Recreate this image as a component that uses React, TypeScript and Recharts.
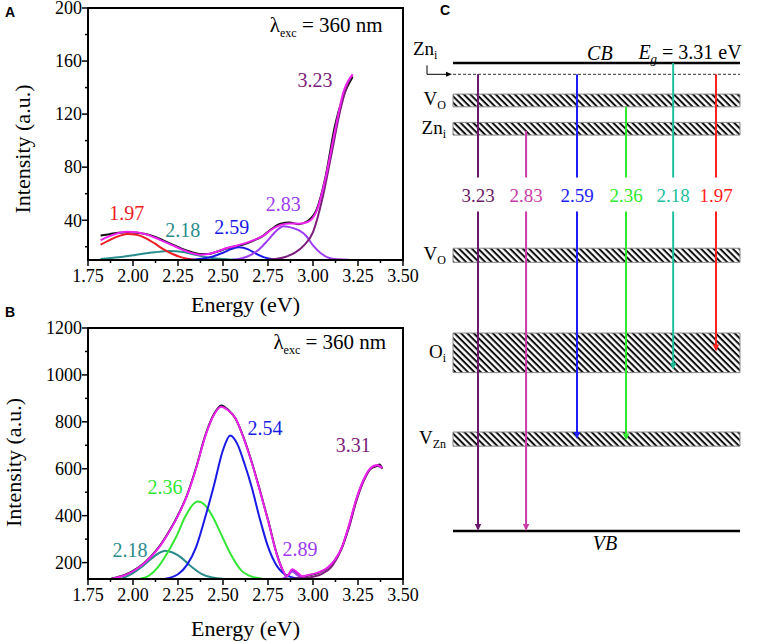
import React from "react";
import { LineChart, Line, XAxis, YAxis, ReferenceArea, ReferenceDot, ReferenceLine } from "recharts";

const SERIF = "'Liberation Serif', Tinos, 'Times New Roman', Times, 'DejaVu Serif', 'Noto Serif', serif";

// ---------- shared axis ticks
const energyTicks = [1.75, 1.875, 2.0, 2.125, 2.25, 2.375, 2.5, 2.625, 2.75, 2.875, 3.0, 3.125, 3.25, 3.375, 3.5];
const energyMajor = [1.75, 2.0, 2.25, 2.5, 2.75, 3.0, 3.25, 3.5];
const aYTicks = [20, 40, 60, 80, 100, 120, 140, 160, 180, 200];
const aYMajor = [40, 80, 120, 160, 200];
const bYTicks = [200, 300, 400, 500, 600, 700, 800, 900, 1000, 1100, 1200];
const bYMajor = [200, 400, 600, 800, 1000, 1200];

// ---------- panel A
const aExpE = [1.82, 1.87, 1.92, 1.97, 2.02, 2.07, 2.12, 2.17, 2.22, 2.27, 2.32, 2.37, 2.42, 2.47, 2.52, 2.57, 2.62, 2.67, 2.72, 2.77, 2.82, 2.87, 2.92, 2.97, 3.02, 3.07, 3.12, 3.17, 3.22];
const aExpI = [28.5, 29.5, 30.6, 31, 30.6, 29.6, 27.6, 24.6, 21.6, 18.6, 16.2, 14.6, 14.6, 16.4, 18.6, 20.4, 22, 24.6, 28, 33.4, 37.4, 38.2, 37, 39.4, 48, 73, 110, 134, 148];
const aFitI = [25, 28, 30.3, 31.3, 31, 29.5, 27, 24, 21, 18, 15.5, 14, 14.5, 16.5, 19, 20.6, 22.5, 25, 28, 33, 36.5, 37.6, 37.4, 38.6, 47, 72, 106, 137, 150];
const aRedE = [1.82, 1.87, 1.92, 1.97, 2.02, 2.07, 2.12, 2.17, 2.22, 2.27, 2.32, 2.37, 2.42];
const aRedI = [21.5, 25, 28, 29.6, 29, 26.5, 22.5, 18, 14.5, 12, 10.6, 10.1, 10];
const aTealE = [1.82, 1.92, 2.02, 2.12, 2.2, 2.28, 2.36, 2.44, 2.52, 2.6];
const aTealI = [10.8, 12, 14, 15.8, 16.8, 16, 13.5, 11.5, 10.5, 10.1];
const aBlueE = [2.3, 2.38, 2.44, 2.5, 2.55, 2.59, 2.64, 2.68, 2.73, 2.78, 2.84];
const aBlueI = [10.1, 11, 12.5, 15.5, 18.5, 19.6, 18, 15, 12, 10.6, 10.1];
const aVioE = [2.55, 2.6, 2.65, 2.7, 2.75, 2.8, 2.835, 2.87, 2.92, 2.96, 3.0, 3.04, 3.09, 3.14, 3.2];
const aVioI = [10.2, 11.2, 13.5, 18, 25, 32.5, 35.5, 34.8, 32.5, 28.5, 21, 15.5, 11.5, 10.5, 10.1];
const aDarkE = [2.75, 2.8, 2.85, 2.9, 2.95, 3.0, 3.05, 3.1, 3.15, 3.2, 3.22];
const aDarkI = [10.3, 11, 12.5, 15.5, 21, 31, 55, 88, 122, 145, 149.5];
const aPeakText = ["1.97", "2.18", "2.59", "2.83", "3.23"];
const aPeakE = [1.965, 2.276, 2.548, 2.835, 3.011];
const aPeakI = [45.4, 32.6, 35.1, 52.2, 145.7];
const aPeakColor = ["#ee1c24", "#2a8c8c", "#1a1ae6", "#9d3cf0", "#7d1d7d"];

// ---------- panel B
const bExpE = [1.88, 1.95, 2.0, 2.05, 2.1, 2.15, 2.2, 2.25, 2.3, 2.35, 2.4, 2.45, 2.49, 2.53, 2.57, 2.61, 2.65, 2.7, 2.75, 2.8, 2.83, 2.855, 2.885, 2.91, 2.94, 2.98, 3.03, 3.08, 3.12, 3.16, 3.2, 3.24, 3.28, 3.32, 3.355, 3.37, 3.385];
const bExpI = [132, 146, 165, 191, 226, 272, 332, 402, 487, 603, 738, 833, 870, 850, 813, 742, 652, 522, 382, 234, 170, 140, 168, 156, 140, 146, 156, 176, 208, 262, 356, 466, 548, 600, 612, 618, 600];
const bFitI = [131, 145, 163, 190, 225, 270, 330, 400, 485, 600, 735, 830, 864, 848, 815, 740, 650, 520, 380, 232, 172, 142, 172, 160, 142, 148, 158, 178, 210, 265, 360, 470, 552, 603, 616, 612, 603];
const bTealE = [1.94, 2.0, 2.05, 2.1, 2.15, 2.18, 2.22, 2.27, 2.32, 2.38, 2.44, 2.5];
const bTealI = [132, 155, 182, 215, 243, 250, 243, 220, 185, 152, 136, 131];
const bGreenE = [2.04, 2.09, 2.14, 2.19, 2.24, 2.29, 2.33, 2.36, 2.4, 2.44, 2.49, 2.54, 2.6, 2.66, 2.72];
const bGreenI = [131, 145, 182, 240, 310, 395, 445, 460, 445, 400, 320, 240, 168, 140, 131];
const bBlueE = [2.18, 2.25, 2.3, 2.35, 2.4, 2.45, 2.5, 2.54, 2.58, 2.62, 2.66, 2.7, 2.75, 2.8, 2.83, 2.87, 2.92];
const bBlueI = [131, 150, 190, 265, 390, 530, 680, 742, 705, 620, 520, 400, 268, 185, 158, 140, 132];
const bVioE = [2.83, 2.86, 2.885, 2.91, 2.94, 2.97];
const bVioI = [131, 145, 162, 148, 133, 130];
const bDarkE = [2.88, 2.94, 3.0, 3.05, 3.1, 3.15, 3.2, 3.24, 3.28, 3.32, 3.355, 3.385];
const bDarkI = [131, 134, 140, 152, 180, 245, 350, 460, 545, 600, 613, 603];
const bPeakText = ["2.54", "2.36", "2.18", "2.89", "3.31"];
const bPeakE = [2.733, 2.178, 1.983, 2.928, 3.224];
const bPeakI = [772, 523, 254, 257, 701];
const bPeakColor = ["#1a1ae6", "#33e633", "#2a8c8c", "#9d3cf0", "#7d1d7d"];

// ---------- panel C (energy above VB, eV)
const cBandLeft = 0.475;
const cBandRight = 6.504;
const cCB = 3.31;
const cShallowZni = 3.23;
const levelMain = ["V", "Zn", "V", "O", "V"];
const levelSub = ["O", "i", "O", "i", "Zn"];
const levelLo = [3.0, 2.8, 1.9, 1.12, 0.6];
const levelHi = [3.09, 2.89, 2.0, 1.4, 0.7];
const transText = ["3.23", "2.83", "2.59", "2.36", "2.18", "1.97"];
const transColor = ["#6b1a6b", "#c83ca8", "#1d1df5", "#2ee82e", "#20bf9c", "#ff2020"];
const transX = [1, 2.01, 3.08, 4.11, 5.1, 6];
const transFrom = [3.23, 2.83, 3.23, 3.0, 3.31, 3.23];
const transTo = [0, 0, 0.65, 0.64, 1.14, 1.27];
const gapTop = 2.5;
const gapBottom = 2.26;
const labelLevel = 2.376;

const pts = (e: number[], v: number[]) => e.map((x, i) => ({ e: x, v: v[i] }));

const near = (list: number[], v: number) => list.some((m) => Math.abs(m - v) < 1e-6);

const xTick = (props: any) => {
  const { x, y, payload } = props;
  const major = near(energyMajor, payload.value);
  return (
    <g>
      <line x1={x} x2={x} y1={y} y2={y + (major ? 6 : 3)} stroke="#000" strokeWidth={1.5} />
      {major && (
        <text x={x} y={y + 22} textAnchor="middle" fontSize={18} fontFamily={SERIF} fill="#000">
          {payload.value.toFixed(2)}
        </text>
      )}
    </g>
  );
};

const yTick = (majors: number[]) => (props: any) => {
  const { x, y, payload } = props;
  const major = near(majors, payload.value);
  return (
    <g>
      <line x1={x} x2={x - (major ? 6 : 3)} y1={y} y2={y} stroke="#000" strokeWidth={1.5} />
      {major && (
        <text x={x - 6} y={y} dy="0.35em" textAnchor="end" fontSize={18} fontFamily={SERIF} fill="#000">
          {payload.value}
        </text>
      )}
    </g>
  );
};

const yTitle = (dx: number, dy: number) => (props: any) => {
  const vb = props.viewBox;
  const cx = vb.x + dx;
  const cy = vb.y + vb.height / 2 + dy;
  return (
    <text transform={`translate(${cx},${cy}) rotate(-90)`} textAnchor="middle" dy="0.35em" fontSize={22} fontFamily={SERIF} fill="#000">
      Intensity (a.u.)
    </text>
  );
};

const xTitle = (offset: number) => (props: any) => {
  const vb = props.viewBox;
  return (
    <text x={vb.x + vb.width / 2} y={vb.y + vb.height - offset} textAnchor="middle" fontSize={22} fontFamily={SERIF} fill="#000">
      Energy (eV)
    </text>
  );
};

const textAt = (key: string, x: number, y: number, txt: string, color: string, size: number) => (
  <ReferenceDot
    key={key}
    x={x}
    y={y}
    r={0}
    shape={(p: any) => (
      <text x={p.cx} y={p.cy} dy="0.35em" textAnchor="middle" fontSize={size} fontFamily={SERIF} fill={color}>
        {txt}
      </text>
    )}
  />
);

const lambdaAt = (x: number, y: number) => (
  <ReferenceDot
    x={x}
    y={y}
    r={0}
    shape={(p: any) => (
      <text x={p.cx} y={p.cy + 7} fontSize={21} fontFamily={SERIF} fill="#000">
        λ
        <tspan fontSize={12} dy={5}>exc</tspan>
        <tspan dy={-5}> = 360 nm</tspan>
      </text>
    )}
  />
);

function Spectrum(props: {
  top: number;
  height: number;
  plotTop: number;
  xAxisHeight: number;
  yDomain: [number, number];
  yTicks: number[];
  yMajor: number[];
  titleOffset: number;
  yTitleDx: number;
  yTitleDy: number;
  series: { e: number[]; v: number[]; color: string }[];
  peaks: { t: string[]; e: number[]; v: number[]; c: string[] };
  lambda: [number, number];
}) {
  const { yDomain } = props;
  return (
    <div style={{ position: "absolute", left: 0, top: props.top }}>
      <LineChart width={430} height={props.height} margin={{ top: props.plotTop, right: 27, left: 0, bottom: 0 }}>
        <XAxis
          type="number"
          dataKey="e"
          domain={[1.75, 3.5]}
          allowDataOverflow
          ticks={energyTicks}
          interval={0}
          tick={xTick}
          tickLine={false}
          tickSize={0}
          tickMargin={0}
          height={props.xAxisHeight}
          axisLine={{ stroke: "#000", strokeWidth: 2 }}
          label={{ content: xTitle(props.titleOffset) }}
        />
        <YAxis
          type="number"
          domain={yDomain}
          allowDataOverflow
          ticks={props.yTicks}
          interval={0}
          tick={yTick(props.yMajor)}
          tickLine={false}
          tickSize={0}
          tickMargin={0}
          width={88}
          axisLine={{ stroke: "#000", strokeWidth: 2 }}
          label={{ content: yTitle(props.yTitleDx, props.yTitleDy) }}
        />
        <ReferenceArea x1={1.75} x2={3.5} y1={yDomain[0]} y2={yDomain[1]} fill="none" fillOpacity={0} stroke="#000" strokeWidth={2} />
        {props.series.map((s, i) => (
          <Line
            key={i}
            data={pts(s.e, s.v)}
            dataKey="v"
            type="monotone"
            stroke={s.color}
            strokeWidth={2}
            dot={false}
            isAnimationActive={false}
          />
        ))}
        {props.peaks.t.map((t, i) => textAt("p" + i, props.peaks.e[i], props.peaks.v[i], t, props.peaks.c[i], 20))}
        {lambdaAt(props.lambda[0], props.lambda[1])}
      </LineChart>
    </div>
  );
}

const arrowShape = (color: string) => (p: any) => {
  const x = p.x1;
  const ya = Math.min(p.y1, p.y2);
  const yb = Math.max(p.y1, p.y2);
  return (
    <g>
      <line x1={x} x2={x} y1={ya} y2={yb - 5} stroke={color} strokeWidth={2} />
      <polygon points={`${x - 3.2},${yb - 7} ${x + 3.2},${yb - 7} ${x},${yb}`} fill={color} />
    </g>
  );
};

const plainSeg = (color: string) => (p: any) => (
  <line x1={p.x1} x2={p.x2} y1={p.y1} y2={p.y2} stroke={color} strokeWidth={2} />
);

const levelLabel = (main: string, sub: string) => (props: any) => {
  const vb = props.viewBox;
  return (
    <text x={vb.x - 7} y={vb.y + vb.height / 2 + 5} textAnchor="end" fontSize={19} fontFamily={SERIF} fill="#000">
      {main}
      <tspan fontSize={12} dy={4}>{sub}</tspan>
    </text>
  );
};

function Diagram() {
  return (
    <div style={{ position: "absolute", left: 390, top: 0 }}>
      <LineChart width={377} height={643} margin={{ top: 22, right: 3.4, left: 40.4, bottom: 69.6 }}>
        <defs>
          <pattern id="hatchC" patternUnits="userSpaceOnUse" width={4.5} height={4.5} patternTransform="rotate(45)">
            <rect x={0} y={0} width={4.5} height={4.5} fill="#fff" />
            <rect x={0} y={0} width={4.5} height={2} fill="#111" />
          </pattern>
        </defs>
        <XAxis type="number" dataKey="x" domain={[0, 7]} allowDataOverflow hide />
        <YAxis type="number" dataKey="y" domain={[-0.3, 3.6]} allowDataOverflow hide />
        {levelMain.map((m, i) => (
          <ReferenceArea
            key={"lv" + i}
            x1={cBandLeft}
            x2={cBandRight}
            y1={levelLo[i]}
            y2={levelHi[i]}
            fill="url(#hatchC)"
            fillOpacity={1}
            stroke="#888"
            strokeWidth={1}
            label={levelLabel(m, levelSub[i])}
          />
        ))}
        <ReferenceLine
          segment={[{ x: cBandLeft, y: cShallowZni }, { x: cBandRight, y: cShallowZni }]}
          stroke="#333"
          strokeWidth={1}
          strokeDasharray="3 2"
        />
        <Line
          data={[{ x: cBandLeft, y: cCB }, { x: cBandRight, y: cCB }]}
          dataKey="y"
          stroke="#000"
          strokeWidth={2.5}
          dot={false}
          isAnimationActive={false}
        />
        <Line
          data={[{ x: cBandLeft, y: 0 }, { x: cBandRight, y: 0 }]}
          dataKey="y"
          stroke="#000"
          strokeWidth={2.5}
          dot={false}
          isAnimationActive={false}
        />
        {transText.map((t, i) => (
          <ReferenceLine
            key={"ta" + i}
            segment={[{ x: transX[i], y: transFrom[i] }, { x: transX[i], y: gapTop }]}
            shape={plainSeg(transColor[i])}
          />
        ))}
        {transText.map((t, i) => (
          <ReferenceLine
            key={"tb" + i}
            segment={[{ x: transX[i], y: gapBottom }, { x: transX[i], y: transTo[i] }]}
            shape={arrowShape(transColor[i])}
          />
        ))}
        {transText.map((t, i) => textAt("tl" + i, transX[i], labelLevel, t, transColor[i], 19))}
        <ReferenceDot
          x={cBandLeft}
          y={cShallowZni}
          r={0}
          shape={(p: any) => (
            <g>
              <path d={`M${p.cx - 26},${p.cy - 9} V${p.cy} H${p.cx - 6}`} stroke="#000" strokeWidth={1} fill="none" />
              <polygon points={`${p.cx - 7},${p.cy - 2.5} ${p.cx - 7},${p.cy + 2.5} ${p.cx - 1},${p.cy}`} fill="#000" />
              <text x={p.cx - 40} y={p.cy - 19} fontSize={19} fontFamily={SERIF} fill="#000">
                Zn<tspan fontSize={12} dy={4}>i</tspan>
              </text>
            </g>
          )}
        />
        <ReferenceDot
          x={3.56}
          y={3.331}
          r={0}
          shape={(p: any) => (
            <text x={p.cx} y={p.cy} textAnchor="middle" fontSize={20} fontStyle="italic" fontFamily={SERIF} fill="#000">
              CB
            </text>
          )}
        />
        <ReferenceDot
          x={6.54}
          y={3.338}
          r={0}
          shape={(p: any) => (
            <text x={p.cx} y={p.cy} textAnchor="end" fontSize={20} fontFamily={SERIF} fill="#000">
              <tspan fontStyle="italic">E</tspan>
              <tspan fontStyle="italic" fontSize={13} dy={4}>g</tspan>
              <tspan dy={-4}> = 3.31 eV</tspan>
            </text>
          )}
        />
        <ReferenceDot
          x={3.67}
          y={-0.134}
          r={0}
          shape={(p: any) => (
            <text x={p.cx} y={p.cy} textAnchor="middle" fontSize={20} fontStyle="italic" fontFamily={SERIF} fill="#000">
              VB
            </text>
          )}
        />
      </LineChart>
    </div>
  );
}

const panelLetter: React.CSSProperties = {
  position: "absolute",
  fontFamily: "'Liberation Sans', Arial, sans-serif",
  fontWeight: "bold",
  fontSize: 14,
  lineHeight: "14px",
};

export default function App() {
  return (
    <div style={{ position: "absolute", left: 0, top: 0, width: 767, height: 643, background: "#fff", overflow: "hidden" }}>
      <Spectrum
        top={0}
        height={320}
        plotTop={8}
        xAxisHeight={60}
        yDomain={[10, 200]}
        yTicks={aYTicks}
        yMajor={aYMajor}
        titleOffset={8}
        yTitleDx={22}
        yTitleDy={15}
        series={[
          { e: aExpE, v: aExpI, color: "#111" },
          { e: aTealE, v: aTealI, color: "#2a8c8c" },
          { e: aRedE, v: aRedI, color: "#ee1c24" },
          { e: aBlueE, v: aBlueI, color: "#1a1ae6" },
          { e: aVioE, v: aVioI, color: "#9d3cf0" },
          { e: aDarkE, v: aDarkI, color: "#7d1d7d" },
          { e: aExpE, v: aFitI, color: "#ee22ee" },
        ]}
        peaks={{ t: aPeakText, e: aPeakE, v: aPeakI, c: aPeakColor }}
        lambda={[2.76, 187]}
      />
      <Spectrum
        top={318}
        height={325}
        plotTop={10}
        xAxisHeight={64}
        yDomain={[130, 1200]}
        yTicks={bYTicks}
        yMajor={bYMajor}
        titleOffset={7}
        yTitleDx={13}
        yTitleDy={9}
        series={[
          { e: bExpE, v: bExpI, color: "#111" },
          { e: bTealE, v: bTealI, color: "#2a8c8c" },
          { e: bGreenE, v: bGreenI, color: "#33e633" },
          { e: bBlueE, v: bBlueI, color: "#1a1ae6" },
          { e: bVioE, v: bVioI, color: "#9d3cf0" },
          { e: bDarkE, v: bDarkI, color: "#7d1d7d" },
          { e: bExpE, v: bFitI, color: "#ee22ee" },
        ]}
        peaks={{ t: bPeakText, e: bPeakE, v: bPeakI, c: bPeakColor }}
        lambda={[2.78, 1141]}
      />
      <Diagram />
      <div style={{ ...panelLetter, left: 5, top: 5 }}>A</div>
      <div style={{ ...panelLetter, left: 5, top: 305 }}>B</div>
      <div style={{ ...panelLetter, left: 440, top: 3 }}>C</div>
    </div>
  );
}
